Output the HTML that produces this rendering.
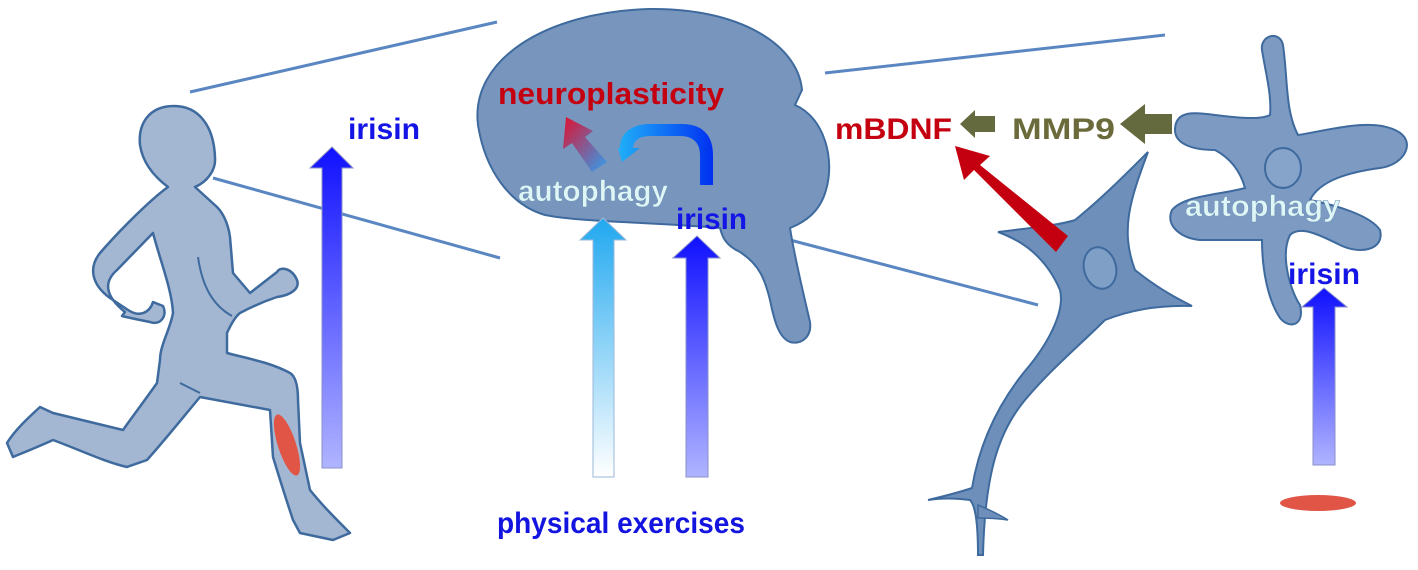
<!DOCTYPE html>
<html><head><meta charset="utf-8"><style>
html,body{margin:0;padding:0;background:#fff;}
svg{display:block;}
text{font-family:"Liberation Sans",sans-serif;font-weight:bold;}
</style></head><body>
<svg width="1418" height="570" viewBox="0 0 1418 570" xmlns="http://www.w3.org/2000/svg">
<defs>
<linearGradient id="gB" x1="0" y1="0" x2="0" y2="1"><stop offset="0" stop-color="#1010ff"/><stop offset="1" stop-color="#b0b4ff"/></linearGradient>
<linearGradient id="gL" x1="0" y1="0" x2="0" y2="1"><stop offset="0" stop-color="#20a8f0"/><stop offset="1" stop-color="#ffffff"/></linearGradient>
<linearGradient id="gR" x1="1" y1="1" x2="0" y2="0"><stop offset="0" stop-color="#30a0f0"/><stop offset="1" stop-color="#e01030"/></linearGradient>
<linearGradient id="gH" x1="0" y1="0" x2="1" y2="0"><stop offset="0" stop-color="#20b0f8"/><stop offset="1" stop-color="#0030f0"/></linearGradient>
</defs>

<g stroke="#5a86c2" stroke-width="3" fill="none">
<line x1="190" y1="92" x2="497" y2="22"/>
<line x1="213" y1="178" x2="500" y2="258"/>
<line x1="825" y1="73" x2="1165" y2="35"/>
<line x1="790" y1="240" x2="1038" y2="305"/>
</g>

<path d="M168,187 C150,200 120,230 100,253 C88,268 92,285 110,298 L128,310 C140,318 150,312 153,302 L163,306 C168,316 160,326 150,322 C140,320 130,318 122,316 L125,312 C110,300 100,285 117,270 L153,233 C160,260 172,290 173,313 C170,330 160,345 160,360 L157,383 C145,400 130,420 123,430 L53,413 L40,407 C28,418 15,430 7,443 L13,457 C25,452 40,446 53,440 C80,450 105,462 127,467 L147,460 C165,440 185,415 200,397 L270,410 L273,457 C280,480 288,505 293,520 L300,533 L333,540 L350,533 C335,518 322,505 310,490 L300,443 L298,400 C298,385 295,376 290,373 C270,362 245,358 227,353 L227,333 C232,322 236,316 240,313 C255,305 268,300 277,297 C292,295 300,288 297,280 C292,268 280,266 277,272 L250,293 L233,273 L230,237 C228,222 222,212 217,207 L195,187 C207,182 216,170 215,158 C214,125 198,106 174,106 C148,106 138,125 140,145 C143,165 156,178 168,187 Z" fill="#a3b7d3" stroke="#3e6a9e" stroke-width="2.5" stroke-linejoin="round"/>
<path d="M198,257 C202,285 212,305 232,316" fill="none" stroke="#3e6a9e" stroke-width="2"/>
<path d="M180,383 L200,393" fill="none" stroke="#3e6a9e" stroke-width="2"/>
<ellipse cx="287" cy="445" rx="9" ry="32" transform="rotate(-18 287 445)" fill="#e05545"/>

<path d="M322,468 L322,168 L310,168 L332,147 L353,168 L342,168 L342,468 Z" fill="url(#gB)" stroke="#8890c8" stroke-width="1"/>
<text x="348" y="139" font-size="30" fill="#1414e6" textLength="72" lengthAdjust="spacingAndGlyphs">irisin</text>

<path d="M478,125 C470,60 545,12 650,9 C740,8 798,45 802,90 L795,105 C825,118 835,160 826,190 C820,212 805,222 790,228 C795,260 805,300 810,322 C812,338 800,345 790,342 C780,338 775,325 770,300 C765,280 760,265 740,252 C725,245 722,236 720,228 C650,222 580,222 545,215 C510,205 485,170 478,125 Z" fill="#7896bd" stroke="#3e6a9e" stroke-width="2"/>

<text x="498" y="104" font-size="31" fill="#c40010" textLength="226" lengthAdjust="spacingAndGlyphs">neuroplasticity</text>
<path d="M607,162 L592,172 L572,143 L563,149 L566,117 L593,131 L585,137 Z" fill="url(#gR)"/>
<path d="M700,185 L700,155 C700,142 692,136 680,136 L650,136 C638,136 633,142 633,148 L640,148 L622,162 L618,148 L620,148 C620,133 632,124 650,124 L682,124 C702,124 713,135 713,155 L713,185 Z" fill="url(#gH)"/>
<text x="518" y="201" font-size="30" fill="#dff6f6" stroke="#6b8fb5" stroke-width="0.5" textLength="150" lengthAdjust="spacingAndGlyphs">autophagy</text>
<text x="676" y="229" font-size="30" fill="#1414e6" textLength="71" lengthAdjust="spacingAndGlyphs">irisin</text>

<path d="M593,477 L593,240 L580,240 L603,218 L626,240 L614,240 L614,477 Z" fill="url(#gL)" stroke="#9ab8d8" stroke-width="1"/>
<path d="M686,477 L686,258 L673,258 L697,236 L720,258 L708,258 L708,477 Z" fill="url(#gB)" stroke="#8890c8" stroke-width="1"/>
<text x="497" y="533" font-size="30" fill="#1414e0" textLength="248" lengthAdjust="spacingAndGlyphs">physical exercises</text>

<text x="835" y="139" font-size="30" fill="#c40010" textLength="117" lengthAdjust="spacingAndGlyphs">mBDNF</text>
<path d="M995,116 L975,116 L975,110 L960,124 L975,138 L975,132 L995,132 Z" fill="#65693e"/>
<text x="1012" y="139" font-size="30" fill="#6a6a3a" textLength="103" lengthAdjust="spacingAndGlyphs">MMP9</text>
<path d="M1172,114 L1145,114 L1145,104 L1120,124 L1145,144 L1145,134 L1172,134 Z" fill="#65693e"/>

<path d="M1148,152 C1130,200 1120,230 1135,270 C1160,290 1180,300 1192,306 C1160,305 1130,310 1105,320 C1080,345 1050,370 1025,400 C1000,430 985,470 983,555 L978,555 C978,520 975,505 970,500 C955,498 940,498 928,500 C945,496 960,492 972,488 C980,440 1000,400 1030,365 C1050,340 1065,310 1060,290 C1045,255 1020,240 998,232 C1030,228 1060,225 1075,220 C1100,200 1125,175 1148,152 Z" fill="#6d8fba" stroke="#3e6a9e" stroke-width="2"/>
<path d="M978,505 C990,510 1000,515 1008,520 C995,518 985,518 978,518 Z" fill="#6d8fba" stroke="#3e6a9e" stroke-width="1.5"/>
<ellipse cx="1100" cy="268" rx="16" ry="21" transform="rotate(-15 1100 268)" fill="#809fc6" stroke="#3e6a9e" stroke-width="2"/>
<path d="M1068,236 L1056,252 L974,170 L964,180 L955,146 L990,156 L980,165 Z" fill="#c40010"/>

<path d="M1262,50 C1260,35 1280,30 1283,45 C1288,80 1285,110 1298,135 C1330,130 1370,118 1395,130 C1418,140 1405,165 1380,168 C1350,172 1320,180 1310,200 C1335,205 1370,215 1380,230 C1385,250 1360,255 1340,245 C1320,235 1300,225 1290,235 C1280,255 1290,290 1300,305 C1305,325 1290,330 1280,318 C1268,300 1262,270 1262,240 C1245,240 1220,240 1200,240 C1180,238 1165,225 1172,210 C1185,195 1220,195 1245,188 C1240,170 1230,158 1215,150 C1195,150 1175,145 1175,130 C1175,110 1195,112 1215,115 C1240,118 1260,120 1270,115 C1272,95 1265,70 1262,50 Z" fill="#7c9ac2" stroke="#3e6a9e" stroke-width="2"/>
<ellipse cx="1283" cy="168" rx="18" ry="20" fill="#86a3c9" stroke="#3e6a9e" stroke-width="2"/>
<text x="1185" y="216" font-size="30" fill="#dff6f6" stroke="#6b8fb5" stroke-width="0.5" textLength="155" lengthAdjust="spacingAndGlyphs">autophagy</text>
<text x="1288" y="284" font-size="30" fill="#1414e6" textLength="72" lengthAdjust="spacingAndGlyphs">irisin</text>
<path d="M1313,465 L1313,307 L1302,307 L1324,288 L1347,307 L1335,307 L1335,465 Z" fill="url(#gB)" stroke="#8890c8" stroke-width="1"/>
<ellipse cx="1318" cy="503" rx="38" ry="8" fill="#e05545"/>
</svg>
</body></html>
